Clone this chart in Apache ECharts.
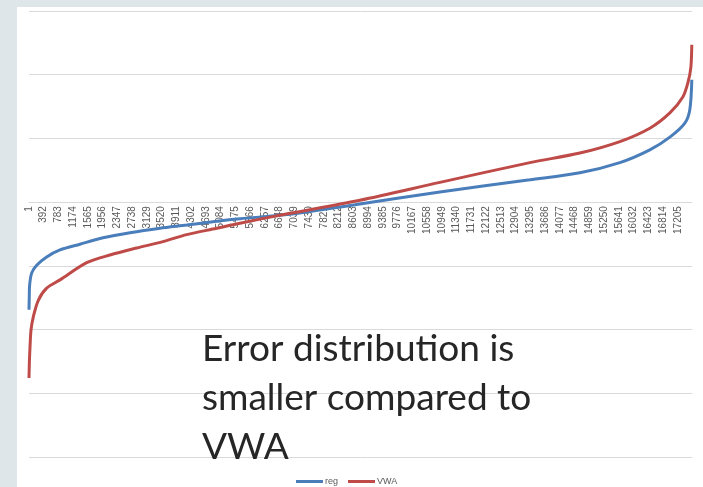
<!DOCTYPE html>
<html>
<head>
<meta charset="utf-8">
<script src="https://cdn.jsdelivr.net/npm/echarts@6/dist/echarts.min.js"></script>
<style>
  html, body { margin: 0; padding: 0; background: #dee6e9; }
  #main { width: 703px; height: 487px; }
</style>
</head>
<body>
<div id="main"></div>
<script>
// category labels shown on the x axis (every 391st point)
let xTickLabels = ['1','392','783','1174','1565','1956','2347','2738','3129','3520','3911','4302','4693','5084','5475','5866','6257','6648','7039','7430','7821','8212','8603','8994','9385','9776','10167','10558','10949','11340','11731','12122','12513','12904','13295','13686','14077','14468','14859','15250','15641','16032','16423','16814','17205'];
let tickStep = 391;
let lastIndex = 17580;

// sorted errors: [point index, value]
let regData = [
    [0, -1.69], [8, -1.46], [13, -1.33], [72, -1.11], [204, -0.99], [469, -0.86],
    [822, -0.75], [1352, -0.66], [1962, -0.56], [2678, -0.48], [3473, -0.41],
    [4181, -0.36], [4976, -0.30], [5594, -0.26], [6919, -0.19], [8642, -0.04],
    [10896, 0.16], [13282, 0.35], [14607, 0.46], [15667, 0.62], [16462, 0.82],
    [16993, 1.02], [17390, 1.24], [17522, 1.45], [17575, 1.92]
];
let vwaData = [
    [0, -2.76], [10, -2.51], [27, -2.27], [53, -2.01], [114, -1.80], [247, -1.54],
    [469, -1.35], [822, -1.22], [1530, -0.95], [2147, -0.83], [2855, -0.72],
    [3552, -0.62], [4181, -0.51], [4976, -0.41], [5594, -0.33], [6787, -0.19],
    [8775, 0.03], [10896, 0.31], [13282, 0.62], [14607, 0.77], [15667, 0.95],
    [16462, 1.16], [16993, 1.40], [17337, 1.65], [17470, 1.87], [17549, 2.11], [17575, 2.47]
];

let yMin = -4;
let yMax = 3;

let dom = document.getElementById('main');
let myChart = echarts.init(dom);

let gridTop = 11;
let gridBottom = 30;
let plotHeight = 487 - gridTop - gridBottom;
// lift the category axis up to the zero line
let zeroOffset = -plotHeight * (0 - yMin) / (yMax - yMin);

let option = {
    animation: false,
    backgroundColor: '#dee6e9',
    graphic: [
        {
            type: 'rect',
            z: -10,
            shape: { x: 17, y: 7, width: 686, height: 480 },
            style: { fill: '#ffffff' }
        },
        {
            type: 'text',
            z: 100,
            style: {
                x: 202,
                y: 325,
                text: 'Error distribution is\nsmaller compared to\nVWA',
                font: '37px Lato',
                lineHeight: 49,
                fill: '#262626'
            }
        }
    ],
    legend: {
        top: 472,
        left: 291,
        icon: 'rect',
        itemWidth: 27,
        itemHeight: 3,
        itemGap: 10,
        textStyle: { fontSize: 9, color: '#595959', fontFamily: 'Liberation Sans', padding: [0, 0, 0, -3] },
        data: ['reg', 'VWA']
    },
    grid: { left: 29, right: 11, top: gridTop, bottom: gridBottom },
    xAxis: {
        type: 'value',
        min: 0,
        max: lastIndex,
        interval: tickStep,
        offset: zeroOffset,
        splitLine: { show: false },
        axisTick: { show: false },
        axisLine: { show: true, onZero: false, lineStyle: { color: '#d9d9d9', width: 1 } },
        axisLabel: {
            rotate: 90,
            margin: 4,
            fontSize: 10,
            color: '#595959',
            fontFamily: 'Liberation Sans',
            showMaxLabel: false,
            formatter: function (v) {
                let i = Math.round(v / tickStep);
                if (Math.abs(v - i * tickStep) > 0.5 || i >= xTickLabels.length) return '';
                return xTickLabels[i];
            }
        }
    },
    yAxis: {
        type: 'value',
        min: yMin,
        max: yMax,
        interval: 1,
        axisLabel: { show: false },
        axisTick: { show: false },
        axisLine: { show: false },
        splitLine: { lineStyle: { color: '#d9d9d9', width: 1 } }
    },
    series: [
        {
            name: 'reg',
            type: 'line',
            data: regData,
            showSymbol: false,
            smooth: 0.3,
            color: '#4a7ebb',
            lineStyle: { width: 3, color: '#4a7ebb' }
        },
        {
            name: 'VWA',
            type: 'line',
            data: vwaData,
            showSymbol: false,
            smooth: 0.3,
            color: '#be4b48',
            lineStyle: { width: 3, color: '#be4b48' }
        }
    ]
};

if (option && typeof option === 'object') {
    myChart.setOption(option, true);
    window.addEventListener('resize', function () {
        myChart.resize();
    });
}
</script>
</body>
</html>
